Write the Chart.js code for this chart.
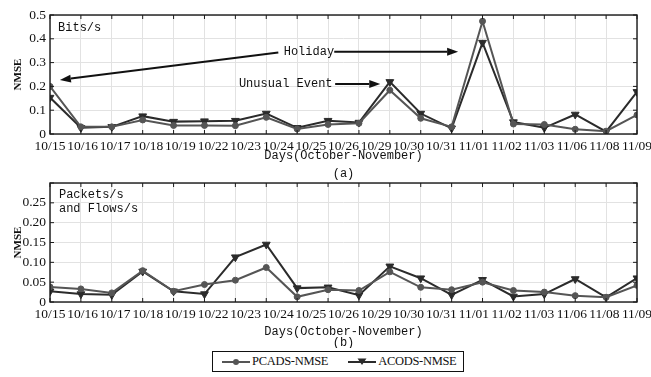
<!DOCTYPE html>
<html>
<head>
<meta charset="utf-8">
<title>NMSE by day</title>
<script src="https://cdn.jsdelivr.net/npm/chart.js@4.4.1/dist/chart.umd.min.js"></script>
<style>
    html, body { margin: 0; padding: 0; background: #fff; }
    body { width: 651px; height: 377px; position: relative; overflow: hidden; }
    .panel { position: absolute; left: 0; width: 651px; }
    #panelA { top: 0; height: 183px; }
    #panelB { top: 170px; height: 178px; }
    #legend {
        position: absolute; left: 212px; top: 351px; width: 252px; height: 21px;
        box-sizing: border-box; border: 1px solid #111;
        display: flex; align-items: center; padding-left: 9px;
        font: 12.5px "Liberation Serif", serif; color: #111; letter-spacing: -0.3px;
        white-space: nowrap;
    }
    #legend .item { display: flex; align-items: center; flex-shrink: 0; margin-right: 20px; white-space: nowrap; }
    #legend svg { margin-right: 2px; flex-shrink: 0; }
</style>
</head>
<body>
<div class="panel" id="panelA"><canvas id="bitsChart"></canvas></div>
<div class="panel" id="panelB"><canvas id="pktChart"></canvas></div>
<div id="legend"></div>

<script>
// Day labels under each panel
const days = ['10/15', '10/16', '10/17', '10/18', '10/19', '10/22', '10/23', '10/24', '10/25', '10/26',
              '10/29', '10/30', '10/31', '11/01', '11/02', '11/03', '11/06', '11/08', '11/09'];

const seriesNames = ['PCADS-NMSE', 'ACODS-NMSE'];

// (a) Bits/s - 20 measurements each
const pcadsBits = [0.200, 0.030, 0.030, 0.059, 0.036, 0.036, 0.035, 0.070, 0.021, 0.040,
                   0.045, 0.184, 0.066, 0.030, 0.474, 0.042, 0.040, 0.020, 0.012, 0.080];
const acodsBits = [0.153, 0.026, 0.030, 0.075, 0.052, 0.054, 0.056, 0.086, 0.026, 0.056,
                   0.048, 0.219, 0.086, 0.024, 0.384, 0.050, 0.026, 0.082, 0.010, 0.177];

// (b) Packets/s and Flows/s
const pcadsPkts = [0.038, 0.033, 0.023, 0.079, 0.027, 0.044, 0.055, 0.087, 0.013, 0.031,
                   0.029, 0.076, 0.037, 0.031, 0.050, 0.029, 0.025, 0.016, 0.012, 0.042];
const acodsPkts = [0.027, 0.020, 0.018, 0.077, 0.027, 0.020, 0.113, 0.145, 0.035, 0.037,
                   0.017, 0.090, 0.060, 0.018, 0.056, 0.014, 0.020, 0.058, 0.012, 0.060];

// Y ticks
const bitsTicks = [0, 0.1, 0.2, 0.3, 0.4, 0.5];
const bitsTickLabels = ['0', '0.1', '0.2', '0.3', '0.4', '0.5'];
const pktTicks = [0, 0.05, 0.10, 0.15, 0.20, 0.25, 0.30];
const pktTickLabels = ['0', '0.05', '0.10', '0.15', '0.20', '0.25', ''];

Chart.defaults.font.family = '"Liberation Serif", serif';
Chart.defaults.font.size = 13.5;
Chart.defaults.color = '#111';

const lineColors = ['#555555', '#2b2b2b'];
const gridColor = '#e2e2e2';

// Frame round the plot area with small inward ticks (matlab look)
const framePlugin = {
    id: 'frame',
    afterDatasetsDraw(chart) {
        const {ctx, chartArea: a, scales} = chart;
        ctx.save();
        ctx.strokeStyle = '#1a1a1a';
        ctx.lineWidth = 1;
        scales.x.ticks.forEach(t => {
            const px = scales.x.getPixelForValue(t.value);
            ctx.beginPath();
            ctx.moveTo(px, a.top); ctx.lineTo(px, a.top + 4);
            ctx.moveTo(px, a.bottom); ctx.lineTo(px, a.bottom - 4);
            ctx.stroke();
        });
        scales.y.ticks.forEach(t => {
            const py = scales.y.getPixelForValue(t.value);
            ctx.beginPath();
            ctx.moveTo(a.left, py); ctx.lineTo(a.left + 4, py);
            ctx.moveTo(a.right, py); ctx.lineTo(a.right - 4, py);
            ctx.stroke();
        });
        ctx.lineWidth = 1.4;
        ctx.strokeRect(a.left, a.top, a.right - a.left, a.bottom - a.top);
        ctx.restore();
    }
};

function drawArrow(ctx, x1, y1, x2, y2) {
    const ang = Math.atan2(y2 - y1, x2 - x1);
    const len = 11, half = 4;
    const bx = x2 - len * Math.cos(ang), by = y2 - len * Math.sin(ang);
    ctx.beginPath();
    ctx.moveTo(x1, y1);
    ctx.lineTo(bx, by);
    ctx.stroke();
    ctx.beginPath();
    ctx.moveTo(x2, y2);
    ctx.lineTo(bx + half * Math.sin(ang), by - half * Math.cos(ang));
    ctx.lineTo(bx - half * Math.sin(ang), by + half * Math.cos(ang));
    ctx.closePath();
    ctx.fill();
}

// Text notes and arrows, placed in data units
const notesPlugin = {
    id: 'notes',
    afterDatasetsDraw(chart, args, opts) {
        const {ctx, scales} = chart;
        const X = v => scales.x.getPixelForValue(v);
        const Y = v => scales.y.getPixelForValue(v);
        ctx.save();
        ctx.fillStyle = '#111';
        ctx.strokeStyle = '#111';
        ctx.lineWidth = 2;
        ctx.font = '12px "Liberation Mono", monospace';
        ctx.textBaseline = 'middle';
        (opts.texts || []).forEach(t => {
            ctx.textAlign = t.align || 'left';
            ctx.fillText(t.text, X(t.x), Y(t.y));
        });
        (opts.arrows || []).forEach(r => {
            drawArrow(ctx, X(r[0]), Y(r[1]), X(r[2]), Y(r[3]));
        });
        ctx.restore();
    }
};

function makeChart(el, series, ticks, tickLabels, yMax, padTop, bottomH, caption, captionLine, notes) {
    return new Chart(el, {
        type: 'line',
        data: {
            datasets: series.map((vals, k) => ({
                label: seriesNames[k],
                data: vals.map((v, i) => ({x: i, y: v})),
                xAxisID: 'x',
                borderColor: lineColors[k],
                backgroundColor: lineColors[k],
                borderWidth: 2,
                tension: 0,
                pointStyle: k === 0 ? 'circle' : 'triangle',
                rotation: k === 0 ? 0 : 180,
                pointRadius: k === 0 ? 3 : 4.5,
                pointBorderWidth: 1
            }))
        },
        options: {
            responsive: true,
            maintainAspectRatio: false,
            animation: false,
            layout: { padding: { left: 0, right: 14, top: padTop, bottom: 0 } },
            plugins: {
                legend: { display: false },
                tooltip: { enabled: false },
                notes: notes
            },
            scales: {
                x: {
                    type: 'linear',
                    min: 0,
                    max: series[0].length - 1,
                    weight: 0,
                    ticks: { display: false, stepSize: 1 },
                    grid: { color: gridColor, drawTicks: false },
                    border: { display: false },
                    afterFit: s => { s.height = 0; s.paddingLeft = 0; s.paddingRight = 0; }
                },
                x2: {
                    type: 'category',
                    labels: days,
                    offset: false,
                    position: 'bottom',
                    weight: 1,
                    grid: { display: false, drawTicks: false },
                    border: { display: false },
                    ticks: { autoSkip: false, maxRotation: 0, padding: 4 },
                    title: {
                        display: true,
                        text: caption,
                        font: { family: '"Liberation Mono", monospace', size: 12, lineHeight: captionLine + 'px' },
                        padding: { top: 0, bottom: 0 }
                    },
                    afterFit: s => { s.height = bottomH; s.paddingLeft = 0; s.paddingRight = 0; }
                },
                y: {
                    min: 0,
                    max: yMax,
                    afterBuildTicks: s => { s.ticks = ticks.map(v => ({value: v})); },
                    ticks: { padding: 4, callback: (v, i) => tickLabels[i] },
                    grid: { color: gridColor, drawTicks: false },
                    border: { display: false },
                    title: {
                        display: true,
                        text: 'NMSE',
                        font: { size: 11, weight: 'bold', lineHeight: 1.2 },
                        padding: { top: 12, bottom: 0 }
                    },
                    afterFit: s => { s.width = 50; }
                }
            }
        },
        plugins: [framePlugin, notesPlugin]
    });
}

const bitsChart = makeChart(document.getElementById('bitsChart'),
    [pcadsBits, acodsBits], bitsTicks, bitsTickLabels, 0.5, 15, 49,
    ['Days(October-November)', '(a)'], 18,
    {
        texts: [
            { text: 'Bits/s', x: 0.26, y: 0.445 },
            { text: 'Holiday', x: 8.38, y: 0.346, align: 'center' },
            { text: 'Unusual Event', x: 7.63, y: 0.21, align: 'center' }
        ],
        arrows: [
            [7.39, 0.342, 0.32, 0.227],
            [9.2, 0.346, 13.21, 0.346],
            [9.23, 0.21, 10.69, 0.21]
        ]
    });

const pktChart = makeChart(document.getElementById('pktChart'),
    [pcadsPkts, acodsPkts], pktTicks, pktTickLabels, 0.3, 13, 46,
    ['Days(October-November)', '(b)'], 11,
    {
        texts: [
            { text: 'Packets/s', x: 0.29, y: 0.27 },
            { text: 'and Flows/s', x: 0.29, y: 0.234 }
        ],
        arrows: []
    });

// Legend box built from the datasets
const legend = document.getElementById('legend');
pktChart.data.datasets.forEach((ds, k) => {
    const mark = k === 0
        ? '<circle cx="14" cy="5" r="3" fill="' + ds.borderColor + '"/>'
        : '<polygon points="9.5,1.5 18.5,1.5 14,8" fill="' + ds.borderColor + '"/>';
    const item = document.createElement('span');
    item.className = 'item';
    item.innerHTML = '<svg width="28" height="10"><line x1="0" y1="5" x2="28" y2="5" stroke="' +
        ds.borderColor + '" stroke-width="2"/>' + mark + '</svg>' + ds.label;
    legend.appendChild(item);
});
</script>
</body>
</html>
